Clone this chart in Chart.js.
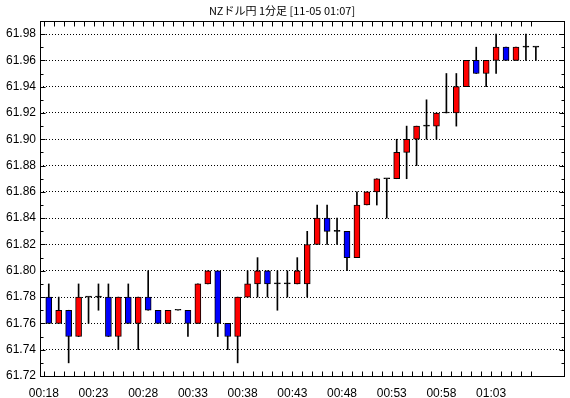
<!DOCTYPE html>
<html><head><meta charset="utf-8">
<script src="https://cdn.jsdelivr.net/npm/chart.js@4.4.1/dist/chart.umd.min.js"></script>
<style>html,body{margin:0;padding:0;background:#fff}#wrap{width:570px;height:398px}</style>
</head><body><div id="wrap"><canvas id="c" width="570" height="398"></canvas></div>
<script>
const chartTitle = "NZドル円 1分足 [11-05 01:07]";
const timeLabels = ["00:18","00:19","00:20","00:21","00:22","00:23","00:24","00:25","00:26","00:27",
  "00:28","00:29","00:30","00:31","00:32","00:33","00:34","00:35","00:36","00:37",
  "00:38","00:39","00:40","00:41","00:42","00:43","00:44","00:45","00:46","00:47",
  "00:48","00:49","00:50","00:51","00:52","00:53","00:54","00:55","00:56","00:57",
  "00:58","00:59","01:00","01:01","01:02","01:03","01:04","01:05","01:06","01:07"];
const openVals  = [61.78,61.76,61.77,61.75,61.78,61.78,61.78,61.75,61.78,61.76,
  61.78,61.77,61.76,61.77,61.77,61.76,61.79,61.80,61.76,61.75,
  61.78,61.79,61.80,61.79,61.79,61.79,61.79,61.82,61.84,61.83,
  61.83,61.81,61.85,61.86,61.87,61.87,61.89,61.90,61.91,61.91,
  61.92,61.92,61.94,61.96,61.95,61.96,61.97,61.96,61.97,61.97];
const highVals  = [61.79,61.78,61.77,61.79,61.78,61.79,61.79,61.78,61.79,61.78,
  61.80,61.77,61.77,61.77,61.77,61.79,61.80,61.80,61.76,61.78,
  61.80,61.81,61.80,61.80,61.80,61.81,61.83,61.85,61.85,61.84,
  61.83,61.86,61.86,61.87,61.87,61.90,61.91,61.91,61.93,61.92,
  61.95,61.95,61.96,61.97,61.96,61.98,61.97,61.97,61.98,61.97];
const lowVals   = [61.76,61.76,61.73,61.75,61.76,61.77,61.75,61.74,61.76,61.74,
  61.77,61.76,61.76,61.77,61.75,61.76,61.79,61.75,61.74,61.73,
  61.78,61.78,61.78,61.77,61.78,61.79,61.78,61.82,61.82,61.82,
  61.80,61.81,61.85,61.85,61.84,61.87,61.87,61.88,61.90,61.90,
  61.92,61.91,61.94,61.95,61.94,61.95,61.96,61.96,61.96,61.96];
const closeVals = [61.76,61.77,61.75,61.78,61.78,61.78,61.75,61.78,61.76,61.78,
  61.77,61.76,61.77,61.77,61.76,61.79,61.80,61.76,61.75,61.78,
  61.79,61.80,61.79,61.79,61.79,61.80,61.82,61.84,61.83,61.83,
  61.81,61.85,61.86,61.87,61.87,61.89,61.90,61.91,61.91,61.92,
  61.92,61.94,61.96,61.95,61.96,61.97,61.96,61.97,61.97,61.97];
const yMin = 61.72, yMax = 61.99, yMajorStep = 0.02, yMinorStep = 0.01;
const xLabelEvery = 5;

const UP = '#ff0000', DOWN = '#0000ff', FLAT = '#000000';

const bodyData = openVals.map((o, i) => ({x: i + 0.5, y: [o, closeVals[i]]}));
const wickData = lowVals.map((l, i) => ({x: i + 0.5, y: [l, highVals[i]]}));

const frameTicks = {
  id: 'frameTicks',
  afterDraw(chart) {
    const {ctx, chartArea: a, scales: {x, y}} = chart;
    ctx.save();
    ctx.strokeStyle = '#000';
    ctx.lineWidth = 1;
    ctx.beginPath();
    const top = Math.round(a.top) + 0.5, bot = Math.round(a.bottom) + 0.5;
    const left = Math.round(a.left) + 0.5, right = Math.round(a.right) + 0.5;
    for (let k = 0; k < timeLabels.length; k++) {
      const px = Math.round(x.getPixelForValue(k)) + 0.5;
      ctx.moveTo(px, bot); ctx.lineTo(px, bot - 5);
      ctx.moveTo(px, top); ctx.lineTo(px, top + 5);
    }
    const n = Math.round((yMax - yMin) / yMinorStep);
    for (let c = 0; c <= n; c++) {
      const v = yMin + c * yMinorStep;
      const py = Math.round(y.getPixelForValue(v)) + 0.5;
      const len = (c % 2 === 0) ? 5 : 3;
      ctx.moveTo(left, py); ctx.lineTo(left + len, py);
      ctx.moveTo(right, py); ctx.lineTo(right - len, py);
    }
    ctx.stroke();
    ctx.strokeRect(left, top, right - left, bot - top);
    ctx.restore();
  }
};

Chart.defaults.font.family = "'Liberation Sans', Arial, sans-serif";
Chart.defaults.font.size = 12;
Chart.defaults.color = '#000';

new Chart(document.getElementById('c'), {
  type: 'bar',
  data: {
    datasets: [
      {
        label: 'body',
        data: bodyData,
        order: 1,
        grouped: false,
        barThickness: 6,
        minBarLength: 1,
        borderWidth: 1,
        borderColor: '#000',
        borderSkipped: false,
        backgroundColor: (ctx) => {
          const i = ctx.dataIndex;
          if (i === undefined) return UP;
          return closeVals[i] > openVals[i] ? UP : (closeVals[i] < openVals[i] ? DOWN : FLAT);
        }
      },
      {
        label: 'wick',
        data: wickData,
        order: 2,
        grouped: false,
        barThickness: 1,
        borderWidth: 0,
        borderSkipped: false,
        backgroundColor: '#000'
      }
    ]
  },
  options: {
    responsive: false,
    animation: false,
    devicePixelRatio: 1,
    layout: {padding: {left: 0, right: 6, top: 0, bottom: 0}},
    plugins: {
      legend: {display: false},
      tooltip: {enabled: false},
      title: {
        display: true,
        text: chartTitle,
        color: '#000',
        font: {family: "'Noto Sans CJK JP', sans-serif", size: 11, weight: 'normal', lineHeight: 1.2},
        padding: {top: 4, bottom: 3.7}
      }
    },
    scales: {
      x: {
        type: 'linear',
        offset: false,
        min: -0.382,
        max: 52.33,
        grid: {display: false, offset: false},
        border: {display: false},
        afterBuildTicks: (scale) => { scale.ticks = timeLabels.map((_, i) => ({value: i})); },
        afterFit: (scale) => { scale.height = 22; },
        ticks: {
          autoSkip: false, maxRotation: 0, minRotation: 0, padding: 2,
          callback: (v) => (v % xLabelEvery === 0 ? timeLabels[v] : '')
        }
      },
      y: {
        type: 'linear',
        min: yMin,
        max: yMax,
        afterFit: (scale) => { scale.width = 40; },
        grid: {display: true, drawTicks: false, color: '#000', lineWidth: 1},
        border: {display: false, dash: [1, 2]},
        ticks: {
          stepSize: yMajorStep, includeBounds: false, padding: 4,
          callback: (v) => Number(v).toFixed(2)
        }
      }
    }
  },
  plugins: [frameTicks]
});
</script></body></html>
